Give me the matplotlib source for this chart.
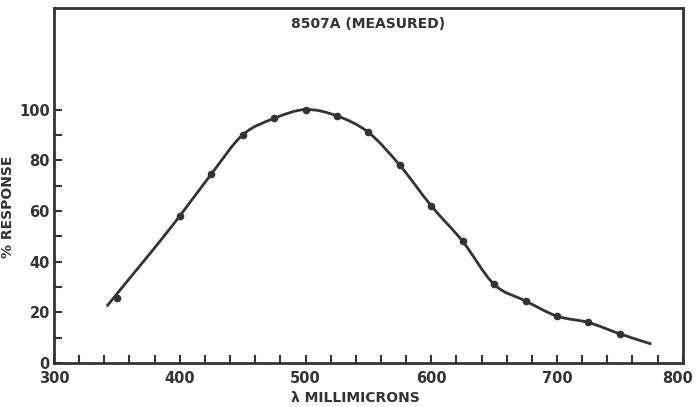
import numpy as np
import matplotlib
matplotlib.use('Agg')
import matplotlib.pyplot as plt
import matplotlib.transforms as mtransforms
from matplotlib.path import Path
from matplotlib.patches import PathPatch

# measured points
wavelength = [350, 400, 425, 450, 475, 500, 525, 550, 575, 600, 625, 650, 675, 700, 725, 750]
response = [25.5, 58, 74.5, 90, 96.5, 100, 97.5, 91, 78, 62, 48, 31, 24.5, 18.5, 16, 11.5]
# the hand drawn curve (the 350 dot sits a bit off it)
curve_x = [342, 400, 425, 450, 475, 500, 525, 550, 575, 600, 625, 650, 675, 700, 725, 750, 775]
curve_y = [22.4, 58, 74.5, 90, 96.5, 100, 97.5, 91, 78, 62, 48, 31, 24.5, 18.5, 16, 11.5, 7.5]

x_ticks = [300, 400, 500, 600, 700, 800]
y_ticks = [0, 20, 40, 60, 80, 100]

ink = '#333333'
plt.rcParams['font.family'] = ['DejaVu Sans']

fig = plt.figure(figsize=(6.96, 4.07), dpi=100)
ax = fig.add_axes([0.0776, 0.108, 0.9034, 0.872])

# smooth curve through the points: cubic hermite pieces drawn as beziers
px = np.array(curve_x, float)
py = np.array(curve_y, float)
h = np.diff(px)
s = np.diff(py) / h
d = np.empty_like(px)
d[0], d[-1] = s[0], s[-1]
d[1:-1] = (h[:-1] * s[1:] + h[1:] * s[:-1]) / (h[:-1] + h[1:])
verts = [(px[0], py[0])]
codes = [Path.MOVETO]
for i in range(len(px) - 1):
    verts += [(px[i] + h[i] / 3, py[i] + d[i] * h[i] / 3),
              (px[i + 1] - h[i] / 3, py[i + 1] - d[i + 1] * h[i] / 3),
              (px[i + 1], py[i + 1])]
    codes += [Path.CURVE4] * 3
ax.add_patch(PathPatch(Path(verts, codes), fill=False, edgecolor=ink, lw=2))
ax.plot(wavelength, response, 'o', color=ink, ms=4.5)

ax.set_xlim(300, 800)
ax.set_ylim(0, 140)
ax.set_xticks(x_ticks)
ax.set_xticks(np.arange(300, 800, 20), minor=True)
ax.set_yticks(y_ticks)
ax.set_yticks(np.arange(0, 101, 10), minor=True)
ax.tick_params(which='both', direction='in', length=6, width=1.5, color=ink,
               labelsize=10.5, labelcolor=ink)
ax.tick_params(axis='x', pad=6)
ax.tick_params(axis='y', pad=3)
for s_ in ax.spines.values():
    s_.set_linewidth(2)
    s_.set_color(ink)

for lab in ax.get_xticklabels() + ax.get_yticklabels():
    lab.set_fontweight('bold')
last = ax.get_xticklabels()[-1]
last.set_transform(last.get_transform() + mtransforms.ScaledTranslation(-4 / 72, 0, fig.dpi_scale_trans))

ax.text(0.5, 0.975, '8507A (MEASURED)', transform=ax.transAxes, ha='center', va='top',
        fontsize=10, fontweight='bold', color=ink)
ax.set_xlabel('λ MILLIMICRONS', fontsize=10, fontweight='bold', color=ink)
ax.set_ylabel('% RESPONSE', fontsize=10, fontweight='bold', color=ink)
ax.xaxis.set_label_coords(0.48, -0.08)
ax.yaxis.set_label_coords(-0.062, 0.44)

fig.savefig('out.png', dpi=100)
